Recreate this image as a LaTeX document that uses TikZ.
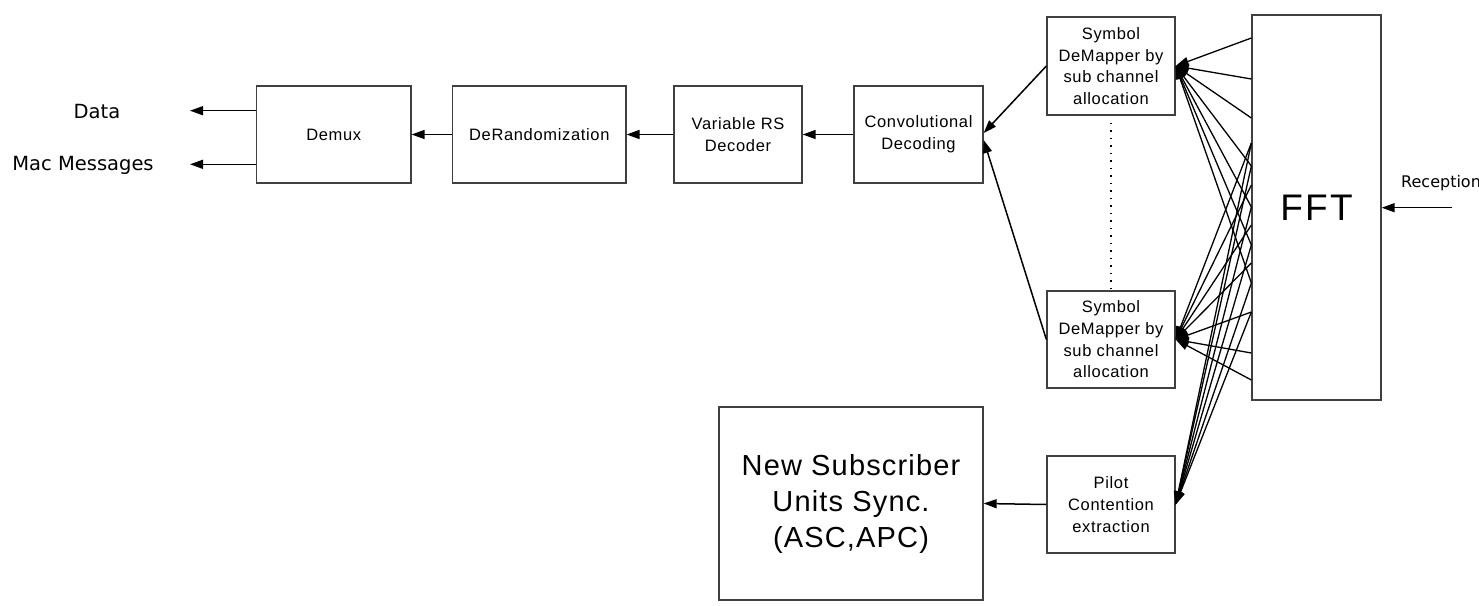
\documentclass[tikz,border=0pt]{standalone}
\usepackage{fontspec}
\setmainfont{Liberation Sans}
\newfontfamily\boxf[LetterSpace=4]{Liberation Sans}
\newfontfamily\djv{DejaVu Sans}
\usetikzlibrary{arrows.meta,calc}
\newcommand\bxfont{\boxf\fontsize{16.5}{21.7}\selectfont}
\tikzset{
  box/.style={draw=black!75, line width=1.3pt, inner sep=0pt, align=center, font=\bxfont},
  arr/.style={-{Triangle[length=13pt,width=9pt]}, line width=1.5pt, black},
  fan/.style={-{Triangle[length=13pt,width=9pt]}, line width=1.3pt, black},
  lbl/.style={inner sep=0pt, font=\djv\fontsize{19.5}{22}\selectfont},
}
\begin{document}
\begin{tikzpicture}[x=1pt,y=-1pt]
\useasboundingbox (0,0) rectangle (1479,605);

% boxes
\node[box, minimum width=154.3, minimum height=97] (demux) at (333.8,134.5) {Demux};
\node[box, minimum width=173.3, minimum height=97] (derand) at (539.3,134.5) {DeRandomization};
\node[box, minimum width=128, minimum height=97] (varrs) at (738,134.5) {Variable RS\\Decoder};
\node[box, minimum width=129, minimum height=97] (conv) at (918.5,134.5) {Convolutional\\Decoding};
\node[box, minimum width=128, minimum height=98] (dm1) at (1111,66) {Symbol\\DeMapper by\\sub channel\\allocation};
\node[box, minimum width=128, minimum height=97] (dm2) at (1111,339.5) {Symbol\\DeMapper by\\sub channel\\allocation};
\node[box, minimum width=128, minimum height=97] (pilot) at (1111,504.5) {Pilot\\Contention\\extraction};
\node[box, minimum width=264, minimum height=193,
      font=\boxf\fontsize{29}{36}\selectfont] (ns) at (851,503.5) {New Subscriber\\Units Sync.\\(ASC,APC)};
\node[box, minimum width=129, minimum height=385,
      font={\fontspec[LetterSpace=6]{Liberation Sans}\fontsize{37}{40}\selectfont}] (fft) at (1316.5,207.5) {FFT};

% labels
\node[lbl, anchor=base] (data) at (97,118.3) {Data};
\node[lbl, anchor=base] (mac) at (83,170) {Mac Messages};
\node[inner sep=0pt, anchor=base west, font=\djv\fontsize{16}{18}\selectfont] (recep) at (1401,187) {Reception};

% free ends
\coordinate (dA) at (190,110.7);
\coordinate (mA) at (190,164.3);
\coordinate (rA) at (1452,207.7);

% main chain
\draw[arr] (demux.west |- dA) -- (dA);
\draw[arr] (demux.west |- mA) -- (mA);
\draw[arr] (derand.west) -- (demux.east);
\draw[arr] (varrs.west) -- (derand.east);
\draw[arr] (conv.west) -- (varrs.east);
\draw[arr] (dm1.west) -- ($(conv.east)+(0,-1.5)$);
\draw[arr] (dm2.west) -- ($(conv.east)+(0,5.5)$);
\draw[arr] (pilot.west) -- (ns.east);
\draw[arr] (rA) -- (fft.east |- rA);

% dotted continuation
\draw[line width=1.4pt, dash pattern=on 1.5pt off 6pt] ($(dm1.south)+(0,7)$) -- (dm2.north);

% fans from FFT
\foreach \yy in {38,79,118,166,207,245,283}
  \draw[fan] (fft.west |- 0,\yy) -- (dm1.east);
\foreach \yy in {143,185,225,263,312,353,380}
  \draw[fan] (fft.west |- 0,\yy) -- (dm2.east);
\foreach \yy in {143,166,207,245,283,312}
  \draw[fan] (fft.west |- 0,\yy) -- (pilot.east);
\end{tikzpicture}
\end{document}
